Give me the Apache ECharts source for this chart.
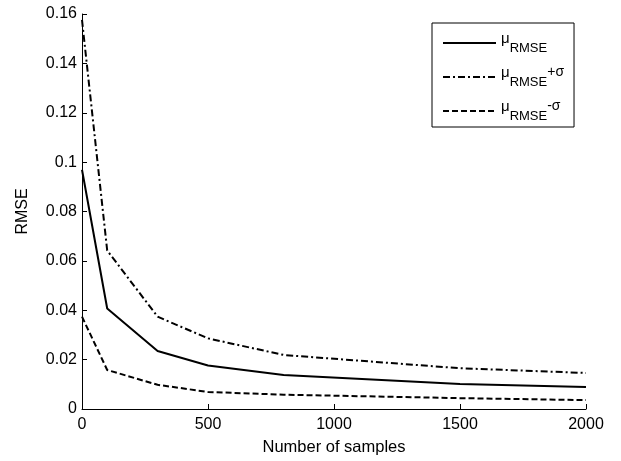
<!DOCTYPE html>
<html>
<head>
<meta charset="utf-8">
<script src="https://cdn.jsdelivr.net/npm/echarts@6/dist/echarts.min.js"></script>
<style>html,body{margin:0;padding:0;background:#fff;}#c{width:621px;height:461px;}</style>
</head>
<body>
<div id="c"></div>
<script>
const samples = [0, 100, 300, 500, 800, 1500, 2000];
const meanRMSE = [0.0969, 0.0407, 0.0235, 0.0176, 0.0138, 0.0101, 0.0089];
const upperRMSE = [0.1576, 0.0642, 0.0374, 0.0286, 0.0219, 0.0165, 0.0146];
const lowerRMSE = [0.0374, 0.0158, 0.0098, 0.0069, 0.0058, 0.0044, 0.0036];
const seriesNames = ['mean', 'plus', 'minus'];
const legendLabels = {
  mean: '{mu|μ}{sub|RMSE}',
  plus: '{mu|μ}{sub|RMSE}{sup|+σ}',
  minus: '{mu|μ}{sub|RMSE}{sup|-σ}'
};

const font = 'Liberation Sans, Arial, sans-serif';
const pairs = a => samples.map((x, i) => [x, a[i]]);

const chart = echarts.init(document.getElementById('c'), null, {renderer: 'canvas'});
chart.setOption({
  animation: false,
  backgroundColor: '#fff',
  grid: {left: 82, right: 35, top: 14, bottom: 50},
  xAxis: {
    type: 'value', min: 0, max: 2000, interval: 500,
    name: 'Number of samples', nameLocation: 'middle', nameGap: 30,
    nameTextStyle: {color: '#000', fontSize: 16.5, fontFamily: font},
    axisLine: {lineStyle: {color: '#000', width: 1}},
    axisTick: {inside: true, length: 5, lineStyle: {color: '#000'}},
    axisLabel: {color: '#000', fontSize: 16, fontFamily: font, margin: 8,
      formatter: v => String(v)},
    splitLine: {show: false}
  },
  yAxis: {
    type: 'value', min: 0, max: 0.16, interval: 0.02,
    name: 'RMSE', nameLocation: 'middle', nameGap: 51,
    nameTextStyle: {color: '#000', fontSize: 16, fontFamily: font},
    axisLine: {show: true, lineStyle: {color: '#000', width: 1}},
    axisTick: {show: true, inside: true, length: 5, lineStyle: {color: '#000'}},
    axisLabel: {color: '#000', fontSize: 16, fontFamily: font, margin: 5,
      formatter: v => String(Math.round(v * 100) / 100)},
    splitLine: {show: false}
  },
  legend: {
    orient: 'vertical', left: 432, top: 23,
    width: 147,
    padding: [8, 10, 4, 10],
    itemGap: 10,
    itemWidth: 53, itemHeight: 14,
    borderColor: '#000', borderWidth: 1,
    backgroundColor: '#fff',
    itemStyle: {opacity: 0},
    data: seriesNames,
    formatter: n => legendLabels[n],
    textStyle: {
      color: '#000', fontFamily: font,
      rich: {
        mu: {fontSize: 15, fontFamily: font, color: '#000', lineHeight: 24, verticalAlign: 'top', padding: [0, 0, 6, 0]},
        sub: {fontSize: 13, fontFamily: font, color: '#000', lineHeight: 24, verticalAlign: 'bottom', padding: [6, 0, 0, 0]},
        sup: {fontSize: 14, fontFamily: font, color: '#000', lineHeight: 24, verticalAlign: 'top', padding: [0, 0, 8, 0]}
      }
    }
  },
  series: [
    {name: 'mean', type: 'line', data: pairs(meanRMSE), symbol: 'none',
     lineStyle: {color: '#000', width: 2, type: 'solid'}, itemStyle: {color: '#000'}},
    {name: 'plus', type: 'line', data: pairs(upperRMSE), symbol: 'none',
     lineStyle: {color: '#000', width: 2, type: [7, 3, 2, 3]}, itemStyle: {color: '#000'}},
    {name: 'minus', type: 'line', data: pairs(lowerRMSE), symbol: 'none',
     lineStyle: {color: '#000', width: 2, type: [6, 3]}, itemStyle: {color: '#000'}}
  ]
});
</script>
</body>
</html>
